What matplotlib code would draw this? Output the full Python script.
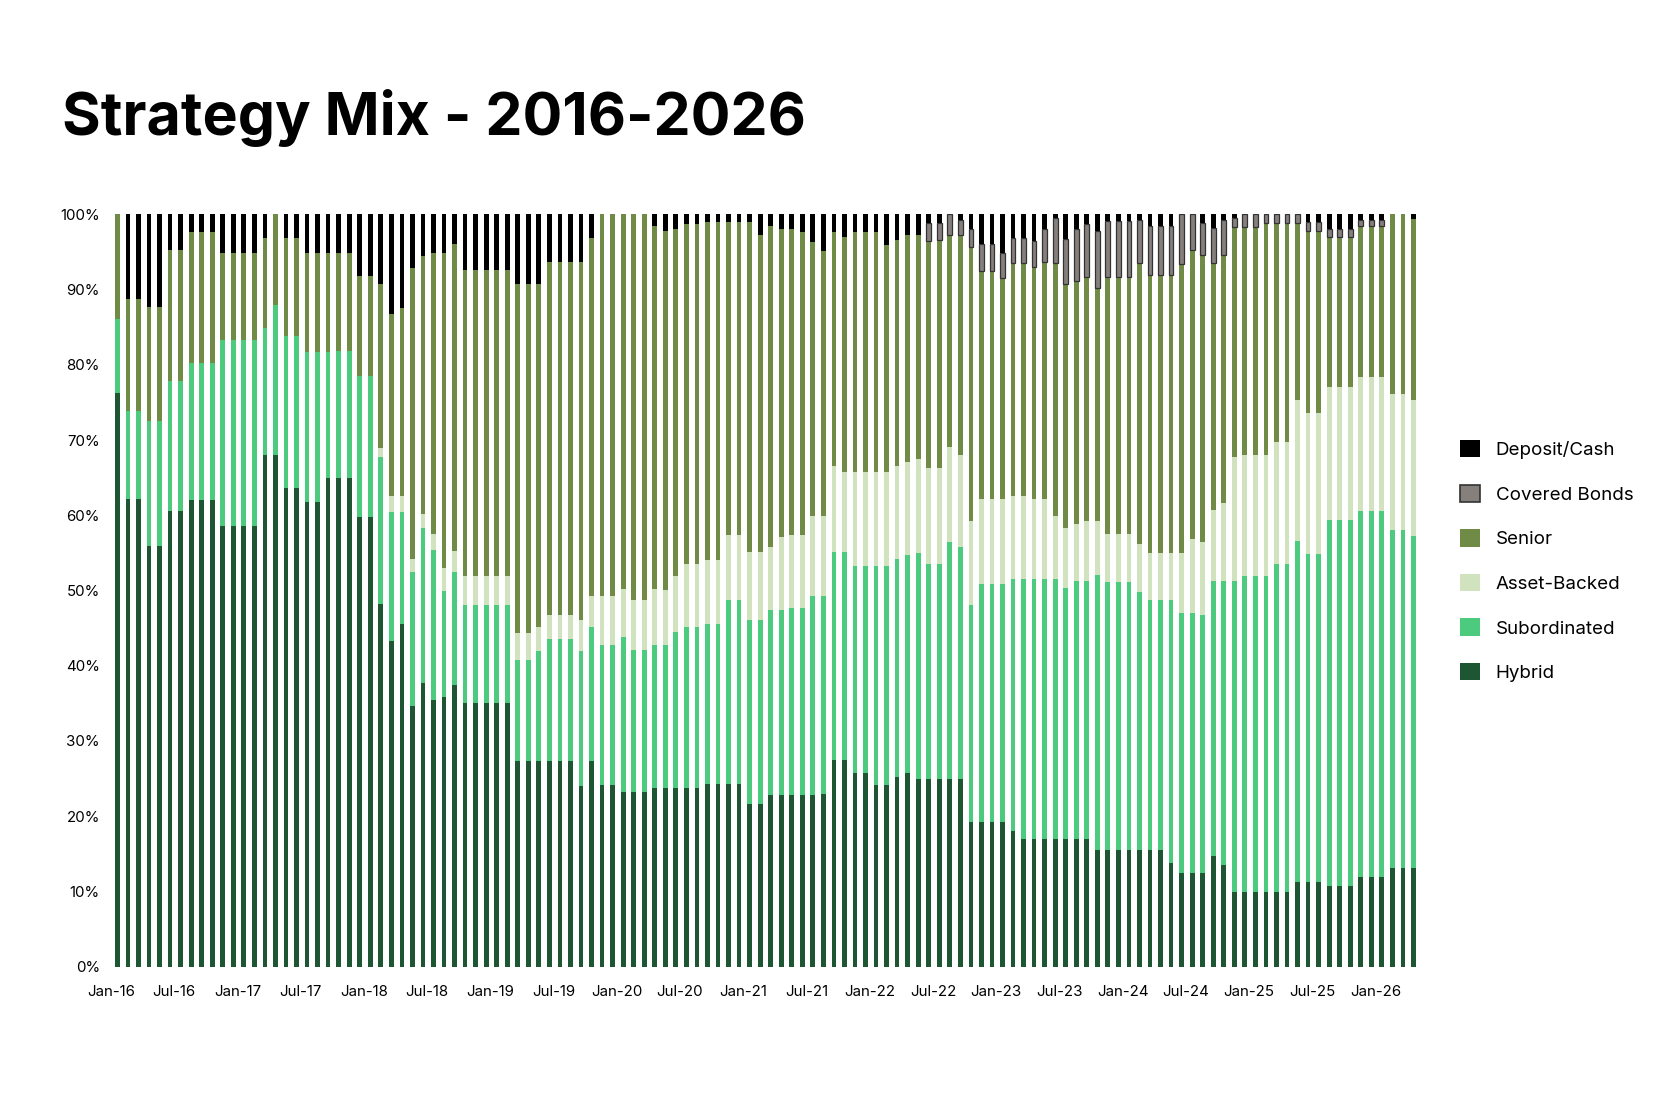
import numpy as np
import pandas as pd
import matplotlib
matplotlib.use("Agg")
import matplotlib.pyplot as plt
from matplotlib.patches import Patch

plt.rcParams['font.family'] = ['Inter', 'DejaVu Sans']

# monthly categories, Jan-16 .. Apr-26
months = pd.date_range('2016-01-01', periods=124, freq='MS')
month_labels = [m.strftime('%b-%y') for m in months]

# shares in %, one row per year
hybrid = [
    76.3, 62.2, 62.2, 55.9, 55.9, 60.6, 60.6, 62.0, 62.0, 62.0, 58.6, 58.6,
    58.6, 58.6, 68.0, 68.0, 63.6, 63.6, 61.8, 61.8, 64.9, 64.9, 64.9, 59.8,
    59.8, 48.2, 43.3, 45.5, 34.6, 37.7, 35.4, 35.8, 37.5, 35.0, 35.0, 35.0,
    35.0, 35.0, 27.3, 27.3, 27.3, 27.3, 27.3, 27.3, 24.0, 27.3, 24.2, 24.2,
    23.2, 23.2, 23.2, 23.7, 23.7, 23.7, 23.7, 23.7, 24.3, 24.3, 24.3, 24.3,
    21.6, 21.6, 22.8, 22.8, 22.8, 22.8, 22.8, 23.0, 27.5, 27.5, 25.7, 25.7,
    24.2, 24.2, 25.2, 25.7, 24.9, 24.9, 24.9, 24.9, 24.9, 19.2, 19.2, 19.2,
    19.2, 18.1, 17.0, 17.0, 17.0, 17.0, 17.0, 17.0, 17.0, 15.5, 15.5, 15.5,
    15.5, 15.5, 15.5, 15.5, 13.8, 12.4, 12.4, 12.4, 14.7, 13.5, 9.9, 9.9,
    9.9, 9.9, 9.9, 9.9, 11.2, 11.2, 11.2, 10.7, 10.7, 10.7, 11.9, 11.9,
    11.9, 13.1, 13.1, 13.1,
]
subordinated = [
    9.8, 11.6, 11.6, 16.6, 16.6, 17.3, 17.3, 18.2, 18.2, 18.2, 24.7, 24.7,
    24.7, 24.7, 16.9, 20.0, 20.2, 20.2, 19.9, 19.9, 16.8, 16.9, 16.9, 18.7,
    18.7, 19.6, 17.2, 15.0, 17.8, 20.6, 20.0, 14.1, 14.9, 13.1, 13.1, 13.1,
    13.1, 13.1, 13.5, 13.5, 14.6, 16.2, 16.2, 16.2, 17.9, 17.9, 18.5, 18.5,
    20.6, 18.9, 18.9, 19.0, 19.0, 20.8, 21.4, 21.4, 21.2, 21.2, 24.4, 24.4,
    24.5, 24.5, 24.6, 24.6, 24.9, 24.9, 26.5, 26.3, 27.6, 27.6, 27.5, 27.5,
    29.0, 29.0, 29.0, 29.0, 30.1, 28.6, 28.6, 31.5, 30.9, 28.9, 31.7, 31.7,
    31.7, 33.4, 34.5, 34.5, 34.5, 34.5, 33.3, 34.3, 34.3, 36.6, 35.6, 35.6,
    35.6, 34.3, 33.2, 33.2, 34.9, 34.6, 34.6, 34.3, 36.6, 37.8, 41.4, 42.0,
    42.0, 42.0, 43.6, 43.6, 45.4, 43.7, 43.7, 48.7, 48.7, 48.7, 48.7, 48.7,
    48.7, 45.0, 45.0, 44.2,
]
asset_backed = [
    0, 0, 0, 0, 0, 0, 0, 0, 0, 0, 0, 0,
    0, 0, 0, 0, 0, 0, 0, 0, 0, 0, 0, 0,
    0, 1.1, 2.1, 2.1, 1.8, 1.9, 2.1, 3.1, 2.8, 3.8, 3.8, 3.8,
    3.8, 3.8, 3.5, 3.5, 3.3, 3.2, 3.2, 3.2, 4.2, 4.1, 6.6, 6.6,
    6.4, 6.6, 6.6, 7.5, 7.4, 7.4, 8.4, 8.4, 8.6, 8.6, 8.7, 8.7,
    9.0, 9.0, 8.4, 9.7, 9.7, 9.7, 10.6, 10.6, 11.5, 10.7, 12.6, 12.6,
    12.6, 12.6, 12.4, 12.4, 12.5, 12.8, 12.8, 12.7, 12.2, 11.2, 11.3, 11.3,
    11.3, 11.0, 11.0, 10.7, 10.7, 8.4, 8.0, 7.5, 7.9, 7.1, 6.4, 6.4,
    6.4, 6.4, 6.3, 6.3, 6.3, 8.0, 9.9, 9.7, 9.4, 10.4, 16.5, 16.1,
    16.1, 16.1, 16.2, 16.2, 18.7, 18.7, 18.7, 17.6, 17.6, 17.6, 17.8, 17.8,
    17.8, 18.0, 18.0, 18.0,
]
senior = [
    13.9, 15.0, 15.0, 15.2, 15.2, 17.3, 17.3, 17.5, 17.5, 17.5, 11.5, 11.5,
    11.5, 11.5, 11.9, 12.0, 13.0, 13.0, 13.1, 13.1, 13.1, 13.0, 13.0, 13.3,
    13.3, 21.9, 24.1, 24.9, 38.7, 34.2, 37.4, 41.9, 40.9, 40.7, 40.7, 40.7,
    40.7, 40.7, 46.4, 46.4, 45.5, 47.0, 47.0, 47.0, 47.6, 47.5, 50.7, 50.7,
    49.8, 51.3, 51.3, 48.3, 47.7, 46.1, 45.2, 45.2, 44.9, 44.9, 41.6, 41.6,
    43.9, 42.2, 42.6, 40.9, 40.6, 40.3, 36.4, 35.2, 31.1, 31.2, 31.9, 31.9,
    31.9, 30.1, 30.0, 30.2, 29.8, 30.1, 30.3, 28.2, 29.3, 36.3, 30.3, 30.3,
    29.3, 31.0, 31.0, 30.8, 31.5, 33.7, 32.4, 32.4, 32.5, 31.0, 34.2, 34.2,
    34.2, 37.3, 37.0, 37.0, 37.0, 38.4, 38.4, 38.2, 32.9, 32.9, 30.5, 30.3,
    30.3, 30.8, 29.1, 29.1, 23.5, 24.2, 24.2, 20.0, 20.0, 20.0, 20.0, 20.0,
    20.0, 23.9, 23.9, 24.1,
]
covered_bonds = [
    0, 0, 0, 0, 0, 0, 0, 0, 0, 0, 0, 0,
    0, 0, 0, 0, 0, 0, 0, 0, 0, 0, 0, 0,
    0, 0, 0, 0, 0, 0, 0, 0, 0, 0, 0, 0,
    0, 0, 0, 0, 0, 0, 0, 0, 0, 0, 0, 0,
    0, 0, 0, 0, 0, 0, 0, 0, 0, 0, 0, 0,
    0, 0, 0, 0, 0, 0, 0, 0, 0, 0, 0, 0,
    0, 0, 0, 0, 0, 2.5, 2.3, 2.7, 2.0, 2.4, 3.6, 3.6,
    3.3, 3.3, 3.3, 3.5, 4.3, 5.9, 6.0, 6.8, 7.0, 7.6, 7.4, 7.4,
    7.4, 5.7, 6.5, 6.5, 6.5, 6.6, 4.7, 4.3, 4.6, 4.6, 1.2, 1.7,
    1.7, 1.2, 1.2, 1.2, 1.2, 1.2, 1.2, 1.0, 1.0, 1.0, 0.9, 0.9,
    0.9, 0, 0, 0,
]
deposit_cash = [
    0, 11.2, 11.2, 12.3, 12.3, 4.8, 4.8, 2.3, 2.3, 2.3, 5.2, 5.2,
    5.2, 5.2, 3.2, 0, 3.2, 3.2, 5.2, 5.2, 5.2, 5.2, 5.2, 8.2,
    8.2, 9.2, 13.3, 12.5, 7.1, 5.6, 5.1, 5.1, 3.9, 7.4, 7.4, 7.4,
    7.4, 7.4, 9.3, 9.3, 9.3, 6.3, 6.3, 6.3, 6.3, 3.2, 0, 0,
    0, 0, 0, 1.5, 2.2, 2.0, 1.3, 1.3, 1.0, 1.0, 1.0, 1.0,
    1.0, 2.7, 1.6, 2.0, 2.0, 2.3, 3.7, 4.9, 2.3, 3.0, 2.3, 2.3,
    2.3, 4.1, 3.4, 2.7, 2.7, 1.1, 1.1, 0, 0.7, 2.0, 3.9, 3.9,
    5.2, 3.2, 3.2, 3.5, 2.0, 0.5, 3.3, 2.0, 1.3, 2.2, 0.9, 0.9,
    0.9, 0.8, 1.5, 1.5, 1.5, 0, 0, 1.1, 1.8, 0.8, 0.5, 0,
    0, 0, 0, 0, 0, 1.0, 1.0, 2.0, 2.0, 2.0, 0.7, 0.7,
    0.7, 0, 0, 0.6,
]

series = [
    ('Hybrid', hybrid, '#1e5634'),
    ('Subordinated', subordinated, '#4cca7e'),
    ('Asset-Backed', asset_backed, '#d1e2be'),
    ('Senior', senior, '#6f8b45'),
    ('Covered Bonds', covered_bonds, '#86807d'),
    ('Deposit/Cash', deposit_cash, '#000000'),
]

fig = plt.figure(figsize=(16.8, 11.2), dpi=100)
ax = fig.add_axes([0.0661, 0.1369, 0.779, 0.6717])

x = np.arange(len(months))
bottom = np.zeros(len(months))
for name, vals, color in series:
    vals = np.array(vals, dtype=float)
    if name == 'Covered Bonds':
        edges = ['#333333' if v > 0 else 'none' for v in vals]
        ax.bar(x, vals, 0.45, bottom=bottom, color=color, edgecolor=edges, linewidth=0.9)
    else:
        ax.bar(x, vals, 0.45, bottom=bottom, color=color, linewidth=0)
    bottom += vals

ax.set_xlim(-0.6, len(months) - 0.4)
ax.set_ylim(0, 100)
ax.set_yticks(range(0, 101, 10))
ax.set_yticklabels([f'{v}%' for v in range(0, 101, 10)])
# labels sit a little left of their bar in the original
ax.set_xticks(x[::6] - 0.6)
ax.set_xticklabels(month_labels[::6])
ax.tick_params(axis='both', length=0, labelsize=10.8, colors='black')
ax.tick_params(axis='y', pad=8)
ax.tick_params(axis='x', pad=13)
for s in ax.spines.values():
    s.set_visible(False)

fig.text(0.037, 0.8795, 'Strategy Mix - 2016-2026', fontsize=42.5, fontweight='bold',
         ha='left', va='baseline')

handles = []
for name, vals, color in reversed(series):
    if name == 'Covered Bonds':
        handles.append(Patch(facecolor=color, edgecolor='#333333', linewidth=1.2, label=name))
    else:
        handles.append(Patch(facecolor=color, edgecolor='none', label=name))
fig.legend(handles=handles, loc='center left', bbox_to_anchor=(0.869, 0.499),
           frameon=False, fontsize=13.5, handlelength=1.05, handleheight=1.05,
           handletextpad=0.85, labelspacing=1.36, borderpad=0, borderaxespad=0)

fig.savefig('out.png', dpi=100)
